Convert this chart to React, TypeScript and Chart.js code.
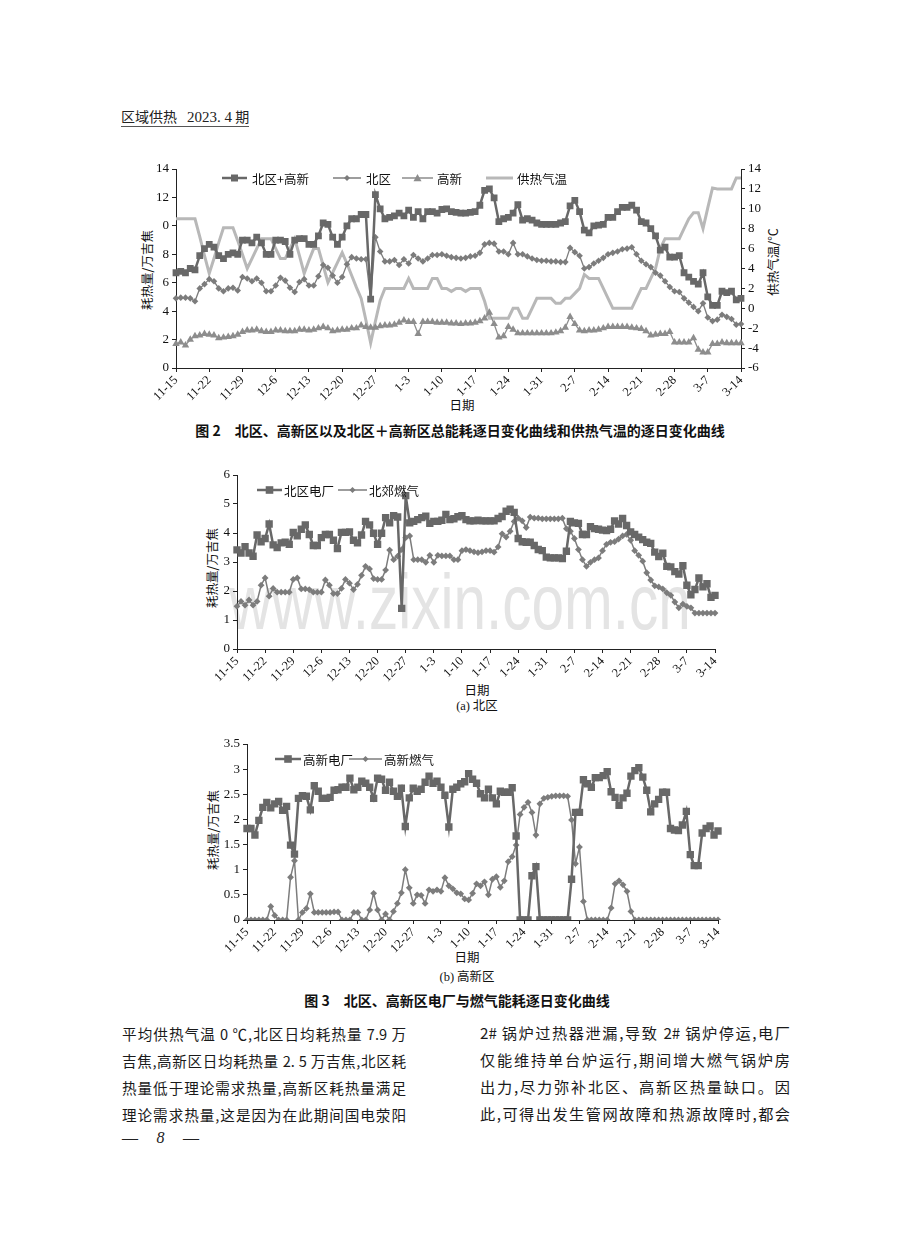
import React, { useEffect, useRef } from "react";
import { Chart, registerables } from "chart.js";
Chart.register(...registerables);

// ---------- categories ----------
const MONTH_SPANS: [number, number, number][] = [
  [11, 15, 30],
  [12, 1, 31],
  [1, 1, 31],
  [2, 1, 28],
  [3, 1, 14],
];
const DATES: string[] = [];
MONTH_SPANS.forEach(([m, a, b]) => {
  for (let d = a; d <= b; d++) DATES.push(`${m}-${d}`);
});
const TICK_EVERY = 7;

// ---------- Fig 2 series ----------
const TOTAL = [
  6.7, 6.8, 6.7, 7.0, 6.9, 7.9, 8.4, 8.7, 8.5, 7.9,
  7.7, 8.0, 8.1, 8.0, 9.0, 9.0, 8.8, 9.2, 8.8, 8.0,
  8.0, 9.0, 9.0, 8.9, 8.0, 9.0, 9.1, 9.1, 8.7, 8.7,
  9.3, 10.2, 10.1, 9.2, 8.7, 9.2, 10.0, 10.5, 10.5, 10.8,
  10.8, 4.85, 12.2, 11.2, 10.5, 10.6, 10.7, 10.9, 10.7, 11.1,
  10.6, 11.0, 10.5, 11.0, 11.0, 10.9, 11.15, 11.2, 11.0, 10.95,
  10.9, 10.9, 10.95, 11.0, 11.45, 12.5, 12.6, 11.97, 10.3, 10.5,
  10.6, 10.9, 11.5, 10.4, 10.5, 10.4, 10.2, 10.1, 10.1, 10.1,
  10.1, 10.2, 10.3, 11.4, 11.8, 11.0, 9.7, 9.5, 10.0, 10.05,
  10.1, 10.6, 10.6, 11.0, 11.3, 11.3, 11.45, 11.1, 10.3, 10.2,
  9.8, 9.3, 8.3, 8.5, 7.8, 7.8, 7.9, 6.7, 6.4, 6.1,
  5.9, 6.7, 5.0, 4.4, 4.4, 5.4, 5.3, 5.4, 4.8, 4.9,
];
const NORTH = [
  4.9, 4.95, 4.95, 4.9, 4.7, 5.6, 5.9, 6.25, 6.1, 5.6,
  5.4, 5.6, 5.65, 5.45, 6.4, 6.3, 6.1, 6.3, 6.0, 5.4,
  5.4, 5.8, 6.35, 6.15, 5.65, 5.35, 6.05, 6.25, 5.8, 5.8,
  6.45, 7.25, 7.05, 6.5, 6.0, 6.4, 7.3, 7.8, 7.7, 7.65,
  7.65, 4.85, 9.2, 8.2, 7.5, 7.5, 7.6, 7.25, 7.65, 7.35,
  7.95, 7.7, 7.5, 7.7, 7.95, 7.95, 8.0, 7.9, 7.8, 7.75,
  7.7, 7.75, 7.85, 7.9, 8.1, 8.7, 8.8, 8.75, 8.2, 8.2,
  8.0, 8.8, 8.0, 8.0, 7.85, 7.7, 7.6, 7.55, 7.55, 7.5,
  7.5, 7.45, 7.45, 8.45, 8.15, 7.9, 7.0, 7.1, 7.35, 7.55,
  7.75, 8.0, 8.1, 8.2, 8.35, 8.4, 8.5, 8.0, 7.55, 7.3,
  7.1, 6.7, 6.5, 6.1, 5.7, 5.4, 5.35, 4.9, 4.6, 4.3,
  4.0, 4.55, 3.55, 3.3, 3.4, 3.75, 3.6, 3.45, 3.05, 3.1,
];
const GAOXIN = [
  1.7, 1.8, 1.6, 2.0, 2.25, 2.3, 2.4, 2.35, 2.3, 2.1,
  2.15, 2.2, 2.25, 2.35, 2.55, 2.65, 2.65, 2.7, 2.6, 2.55,
  2.55, 2.65, 2.65, 2.6, 2.6, 2.6, 2.7, 2.7, 2.65, 2.7,
  2.8, 2.9, 2.8, 2.6, 2.65, 2.7, 2.7, 2.8, 2.8, 3.0,
  2.9, 2.85, 2.85, 2.95, 3.0, 3.0, 3.05, 3.2, 3.35, 3.25,
  3.25, 2.4, 3.25, 3.25, 3.25, 3.2, 3.2, 3.2, 3.15, 3.15,
  3.1, 3.15, 3.15, 3.2, 3.3, 3.5, 3.9, 3.1, 2.15, 2.25,
  2.9, 2.7, 2.45, 2.45, 2.45, 2.45, 2.45, 2.45, 2.45, 2.45,
  2.5, 2.6, 2.85, 3.6, 3.1, 2.65, 2.6, 2.65, 2.65, 2.7,
  2.8, 2.9, 2.9, 2.9, 2.9, 2.9, 2.85, 2.8, 2.75, 2.6,
  2.3, 2.35, 2.4, 2.4, 2.55, 1.8, 1.8, 1.8, 1.8, 2.1,
  1.3, 1.1, 1.1, 1.7, 1.7, 1.8, 1.75, 1.75, 1.75, 1.75,
];
const TEMP = [
  9, 9, 9, 9, 9, 7.2, 5.3, 3.5, 5.0, 6.6,
  8.1, 8.1, 8.1, 6.8, 5.4, 4.0, 5.0, 6.0, 7.0, 7.0,
  7.0, 6.0, 5.0, 5.0, 6.0, 7.0, 5.3, 3.5, 4.8, 6.0,
  6.0, 4.3, 2.6, 3.6, 4.6, 5.6, 4.5, 3.3, 2.1, 1.0,
  -1.2, -3.5, -1.3, 0.8, 2.0, 2.0, 2.0, 2.0, 2.0, 3.0,
  2.0, 2.0, 2.0, 2.0, 3.0, 3.0, 2.0, 2.0, 1.7, 2.0,
  2.0, 1.7, 2.0, 2.0, 2.0, 0.7, -1.0, -1.0, -1.0, -1.0,
  -1.0, 0.0, 0.0, -1.0, -1.0, 0.0, 1.0, 1.0, 1.0, 1.0,
  0.5, 0.5, 1.0, 1.0, 1.5, 2.0, 3.4, 3.0, 3.0, 3.0,
  2.0, 1.0, 0.0, 0.0, 0.0, 0.0, 0.0, 1.0, 2.0, 2.0,
  3.0, 4.0, 6.0, 7.0, 7.0, 7.0, 7.0, 8.0, 9.0, 9.6,
  9.6, 8.0, 10.1, 12.1, 12, 12, 12, 12, 13.1, 13.1,
];
const LEFT_TICK_LABELS: Record<number, string> = { 10: "0" };

// ---------- Fig 3(a) series ----------
const PLANT_N = [
  3.42, 3.31, 3.53, 3.31, 3.2, 3.93, 3.7, 3.81, 4.31, 3.59,
  3.5, 3.66, 3.68, 3.61, 4.02, 3.9, 4.13, 4.28, 3.95, 3.57,
  3.57, 3.84, 3.95, 3.95, 3.75, 3.46, 4.02, 4.02, 4.04, 3.75,
  3.66, 3.93, 4.4, 4.28, 3.99, 3.61, 3.99, 4.53, 4.35, 4.6,
  4.55, 1.4, 5.29, 4.35, 4.4, 4.46, 4.53, 4.58, 4.33, 4.4,
  4.4, 4.44, 4.64, 4.46, 4.49, 4.56, 4.6, 4.46, 4.42, 4.42,
  4.44, 4.42, 4.42, 4.42, 4.42, 4.5, 4.57, 4.75, 4.82, 4.71,
  3.81, 3.7, 3.68, 3.68, 3.57, 3.43, 3.39, 3.17, 3.14, 3.14,
  3.14, 3.12, 3.37, 4.4, 4.35, 4.33, 3.95, 3.95, 4.22, 4.15,
  4.13, 4.1, 4.08, 4.13, 4.42, 4.31, 4.5, 4.26, 4.04, 3.95,
  3.86, 3.77, 3.68, 3.64, 3.34, 3.19, 3.3, 2.85, 2.83, 2.67,
  2.58, 2.87, 2.2, 1.87, 2.05, 2.45, 2.14, 2.25, 1.78, 1.85,
];
const GAS_N = [
  1.47, 1.64, 1.51, 1.69, 1.51, 1.64, 2.2, 2.45, 1.82, 2.09,
  1.96, 1.96, 1.96, 1.96, 2.4, 2.45, 2.07, 2.07, 2.05, 1.96,
  1.96, 1.96, 2.38, 2.2, 1.91, 1.91, 2.09, 2.4, 2.27, 2.05,
  2.23, 2.54, 2.85, 2.76, 2.43, 2.4, 2.4, 2.72, 3.41, 3.08,
  3.2, 3.43, 3.84, 3.9, 3.08, 3.08, 3.08, 2.99, 3.23, 2.99,
  3.23, 3.21, 3.21, 3.21, 3.08, 3.08, 3.39, 3.43, 3.39, 3.35,
  3.32, 3.35, 3.39, 3.39, 3.34, 3.52, 3.97, 3.86, 4.06, 4.4,
  4.51, 4.42, 4.19, 4.55, 4.51, 4.51, 4.49, 4.49, 4.49, 4.49,
  4.49, 4.51, 4.15, 4.06, 3.81, 3.43, 3.08, 2.85, 2.99, 3.08,
  3.14, 3.39, 3.61, 3.68, 3.7, 3.79, 3.9, 3.95, 3.75, 3.39,
  3.23, 3.03, 2.63, 2.38, 2.18, 2.14, 2.07, 1.94, 1.85, 1.62,
  1.42, 1.55, 1.47, 1.42, 1.24, 1.24, 1.24, 1.24, 1.24, 1.24,
];

// ---------- Fig 3(b) series ----------
const PLANT_G = [
  1.82, 1.82, 1.69, 1.98, 2.24, 2.34, 2.23, 2.31, 2.36, 2.18,
  2.26, 1.49, 1.31, 2.42, 2.47, 2.46, 2.19, 2.67, 2.56, 2.42,
  2.42, 2.44, 2.58, 2.59, 2.64, 2.64, 2.82, 2.59, 2.64, 2.76,
  2.72, 2.64, 2.42, 2.82, 2.8, 2.58, 2.74, 2.56, 2.46, 2.62,
  1.86, 2.43, 2.62, 2.56, 2.6, 2.74, 2.86, 2.72, 2.76, 2.64,
  2.48, 1.85, 2.6, 2.64, 2.71, 2.75, 2.91, 2.8, 2.72, 2.51,
  2.43, 2.6, 2.43, 2.31, 2.56, 2.54, 2.54, 2.63, 1.67, 0,
  0, 0, 0.88, 1.06, 0, 0, 0, 0, 0, 0,
  0, 0, 0.81, 2.14, 2.14, 2.79, 2.71, 2.64, 2.83, 2.83,
  2.87, 2.95, 2.55, 2.44, 2.28, 2.43, 2.52, 2.86, 2.97, 3.03,
  2.84, 2.58, 2.15, 2.31, 2.4, 2.54, 2.54, 1.82, 1.79, 1.78,
  1.89, 2.16, 1.3, 1.08, 1.08, 1.73, 1.82, 1.87, 1.69, 1.77,
];
const GAS_G = [
  0, 0, 0, 0, 0, 0, 0.27, 0.09, 0, 0,
  0, 0.85, 1.18, 0, 0.15, 0.23, 0.52, 0.15, 0.15, 0.15,
  0.15, 0.15, 0.16, 0.16, 0, 0, 0, 0.15, 0.15, 0,
  0, 0.2, 0.53, 0.2, 0, 0.12, 0, 0.17, 0.33, 0.54,
  1.0, 0.64, 0.33, 0.5, 0.49, 0.33, 0.6, 0.57, 0.6, 0.57,
  0.84, 0.68, 0.62, 0.54, 0.52, 0.42, 0.4, 0.53, 0.72, 0.68,
  0.76, 0.5, 0.81, 0.86, 0.65, 0.78, 1.16, 1.26, 1.49, 2.1,
  2.24, 2.34, 2.14, 1.69, 2.31, 2.42, 2.44, 2.46, 2.47, 2.47,
  2.47, 2.46, 1.99, 1.12, 1.45, 0.37, 0, 0, 0, 0,
  0, 0, 0.24, 0.72, 0.78, 0.7, 0.57, 0.17, 0, 0,
  0, 0, 0, 0, 0, 0, 0, 0, 0, 0,
  0, 0, 0, 0, 0, 0, 0, 0, 0, 0,
];

// ---------- styling ----------
const SERIF = "'Liberation Serif','DejaVu Serif',serif";
const CJK = "'Noto Sans CJK SC','Noto Sans',sans-serif";
const C_SQ = "#686868";
const C_DI = "#7c7c7c";
const C_TR = "#8d8d8d";
const C_TEMP = "#b8b8b8";

const legendPlugin = {
  id: "pageLegend",
  afterDraw(chart: any, _a: any, opts: any) {
    if (!opts || !opts.items) return;
    const ctx = chart.ctx as CanvasRenderingContext2D;
    const y = opts.y;
    ctx.save();
    for (const it of opts.items) {
      ctx.strokeStyle = it.color;
      ctx.lineWidth = it.lw;
      ctx.beginPath();
      ctx.moveTo(it.x, y);
      ctx.lineTo(it.x + it.len, y);
      ctx.stroke();
      const cx = it.x + it.len / 2;
      const s = it.size;
      ctx.fillStyle = it.color;
      ctx.beginPath();
      if (it.style === "rect") ctx.rect(cx - s, y - s, 2 * s, 2 * s);
      else if (it.style === "rectRot") {
        ctx.moveTo(cx, y - s);
        ctx.lineTo(cx + s, y);
        ctx.lineTo(cx, y + s);
        ctx.lineTo(cx - s, y);
        ctx.closePath();
      } else if (it.style === "triangle") {
        ctx.moveTo(cx, y - s);
        ctx.lineTo(cx + s, y + s * 0.8);
        ctx.lineTo(cx - s, y + s * 0.8);
        ctx.closePath();
      }
      if (it.style !== "none") ctx.fill();
      ctx.fillStyle = "#111";
      ctx.font = opts.font;
      ctx.textBaseline = "middle";
      ctx.textAlign = "left";
      ctx.fillText(it.label, it.textX, y + 1);
    }
    ctx.restore();
  },
};

function xAxis(height: number) {
  return {
    type: "category",
    offset: false,
    border: { display: true, color: "#222", width: 1 },
    grid: {
      display: true,
      drawOnChartArea: false,
      drawTicks: true,
      tickLength: 4,
      color: "rgba(0,0,0,0)",
      tickColor: (c: any) => (c.index % TICK_EVERY === 0 ? "#222" : "rgba(0,0,0,0)"),
    },
    ticks: {
      autoSkip: false,
      minRotation: 45,
      maxRotation: 45,
      padding: 1,
      color: "#111",
      font: { family: SERIF, size: 12.5 },
      callback: (_v: any, i: number) => (i % TICK_EVERY === 0 ? DATES[i] : ""),
    },
    afterFit: (s: any) => {
      s.height = height;
    },
  };
}

function yAxis(pos: string, min: number, max: number, step: number, width: number, cb?: (v: number) => string) {
  return {
    type: "linear",
    position: pos,
    min,
    max,
    border: { display: true, color: "#222", width: 1 },
    grid: {
      display: true,
      drawOnChartArea: false,
      drawTicks: true,
      tickLength: 4,
      tickColor: "#222",
      color: "rgba(0,0,0,0)",
    },
    ticks: {
      stepSize: step,
      padding: 3,
      color: "#111",
      font: { family: SERIF, size: 13 },
      callback: cb ?? ((v: number) => String(v)),
    },
    afterFit: (s: any) => {
      s.width = width;
    },
  };
}

function lineDs(label: string, data: number[], color: string, style: string, radius: number, width: number, axis = "y") {
  return {
    label,
    data,
    yAxisID: axis,
    borderColor: color,
    backgroundColor: color,
    borderWidth: width,
    pointStyle: style,
    pointRadius: radius,
    pointBorderWidth: 0,
    pointBackgroundColor: color,
    tension: 0,
  };
}

const Txt = ({ x, y, children, style }: any) => (
  <div
    style={{
      position: "absolute",
      left: x,
      top: y,
      transform: "translate(-50%,-50%)",
      whiteSpace: "nowrap",
      lineHeight: 1,
      ...style,
    }}
  >
    {children}
  </div>
);

const VTxt = ({ x, y, children, size = 12.5 }: any) => (
  <div
    style={{
      position: "absolute",
      left: x,
      top: y,
      transform: "translate(-50%,-50%) rotate(-90deg)",
      whiteSpace: "nowrap",
      lineHeight: 1,
      fontFamily: CJK,
      fontSize: size,
      color: "#111",
    }}
  >
    {children}
  </div>
);

const JLine = ({ x, y, w, text, size = 15 }: any) => (
  <div
    style={{
      position: "absolute",
      left: x,
      top: y - size * 0.65,
      width: w,
      height: size * 1.3,
      overflow: "visible",
      fontFamily: CJK,
      fontSize: size,
      lineHeight: `${size * 1.3}px`,
      textAlign: "justify",
      textAlignLast: "justify" as any,
      color: "#1a1a1a",
    }}
  >
    {text}
  </div>
);

export default function App() {
  const c1 = useRef<HTMLCanvasElement>(null);
  const c2 = useRef<HTMLCanvasElement>(null);
  const c3 = useRef<HTMLCanvasElement>(null);

  useEffect(() => {
    const legendFont = `12.5px ${CJK}`;
    const ch1 = new Chart(c1.current as HTMLCanvasElement, {
      type: "line",
      data: {
        labels: DATES,
        datasets: [
          lineDs("北区+高新", TOTAL, C_SQ, "rect", 4.8, 2.5),
          lineDs("北区", NORTH, C_DI, "rectRot", 3.3, 1.3),
          lineDs("高新", GAOXIN, C_TR, "triangle", 4.3, 1.3),
          lineDs("供热气温", TEMP, C_TEMP, "circle", 0, 3, "y1"),
        ] as any,
      },
      options: {
        responsive: false,
        animation: false,
        layout: { padding: { top: 19, left: 0, right: 0, bottom: 0 } },
        scales: {
          x: xAxis(52) as any,
          y: yAxis("left", 0, 14, 2, 66, (v) => LEFT_TICK_LABELS[v] ?? String(v)) as any,
          y1: yAxis("right", -6, 14, 2, 59) as any,
        },
        plugins: {
          legend: { display: false },
          tooltip: { enabled: false },
          pageLegend: {
            y: 28,
            font: legendFont,
            items: [
              { label: "北区+高新", x: 112, len: 25, textX: 142, style: "rect", color: C_SQ, lw: 2.5, size: 3.5 },
              { label: "北区", x: 223, len: 28, textX: 256, style: "rectRot", color: C_DI, lw: 1.5, size: 3 },
              { label: "高新", x: 292, len: 31, textX: 327, style: "triangle", color: C_TR, lw: 1.5, size: 4 },
              { label: "供热气温", x: 376, len: 27, textX: 407, style: "none", color: C_TEMP, lw: 3, size: 0 },
            ],
          },
        } as any,
      },
      plugins: [legendPlugin],
    });

    const ch2 = new Chart(c2.current as HTMLCanvasElement, {
      type: "line",
      data: {
        labels: DATES,
        datasets: [
          lineDs("北区电厂", PLANT_N, C_SQ, "rect", 5.2, 2.5),
          lineDs("北郊燃气", GAS_N, C_DI, "rectRot", 3.4, 1.5),
        ] as any,
      },
      options: {
        responsive: false,
        animation: false,
        layout: { padding: { top: 13, left: 0, right: 15, bottom: 0 } },
        scales: {
          x: xAxis(43) as any,
          y: yAxis("left", 0, 6, 1, 47) as any,
        },
        plugins: {
          legend: { display: false },
          tooltip: { enabled: false },
          pageLegend: {
            y: 28,
            font: legendFont,
            items: [
              { label: "北区电厂", x: 67, len: 25, textX: 94, style: "rect", color: C_SQ, lw: 2.5, size: 3.8 },
              { label: "北郊燃气", x: 148, len: 29, textX: 179, style: "rectRot", color: C_DI, lw: 1.5, size: 3 },
            ],
          },
        } as any,
      },
      plugins: [legendPlugin],
    });

    const ch3 = new Chart(c3.current as HTMLCanvasElement, {
      type: "line",
      data: {
        labels: DATES,
        datasets: [
          lineDs("高新电厂", PLANT_G, C_SQ, "rect", 5.2, 2.5),
          lineDs("高新燃气", GAS_G, C_DI, "rectRot", 3.4, 1.5),
        ] as any,
      },
      options: {
        responsive: false,
        animation: false,
        layout: { padding: { top: 12, left: 0, right: 17, bottom: 0 } },
        scales: {
          x: xAxis(42) as any,
          y: yAxis("left", 0, 3.5, 0.5, 47) as any,
        },
        plugins: {
          legend: { display: false },
          tooltip: { enabled: false },
          pageLegend: {
            y: 27,
            font: legendFont,
            items: [
              { label: "高新电厂", x: 75, len: 26, textX: 103, style: "rect", color: C_SQ, lw: 2.5, size: 3.8 },
              { label: "高新燃气", x: 149, len: 33, textX: 184, style: "rectRot", color: C_DI, lw: 1.5, size: 3 },
            ],
          },
        } as any,
      },
      plugins: [legendPlugin],
    });

    return () => {
      ch1.destroy();
      ch2.destroy();
      ch3.destroy();
    };
  }, []);

  return (
    <div
      style={{
        position: "absolute",
        left: 0,
        top: 0,
        width: 920,
        height: 1259,
        background: "#fff",
        overflow: "hidden",
        fontFamily: CJK,
        color: "#111",
      }}
    >
      {/* header */}
      <div
        style={{
          position: "absolute",
          left: 121,
          top: 108,
          fontFamily: CJK,
          fontSize: 14,
          lineHeight: "16px",
          borderBottom: "1px solid #555",
          paddingBottom: 1,
          color: "#222",
          whiteSpace: "nowrap",
        }}
      >
        区域供热<span style={{ display: "inline-block", width: 10 }} />
        <span style={{ fontFamily: SERIF, fontSize: 15 }}>2023. 4</span> 期
      </div>

      {/* watermark */}
      <Txt
        x={460}
        y={602}
        style={{
          fontFamily: "'Liberation Sans',Arial,sans-serif",
          fontSize: 78,
          color: "#e4e4e4",
          transform: "translate(-50%,-50%) scaleX(0.75)",
          zIndex: 0,
        }}
      >
        www.zixin.com.cn
      </Txt>

      {/* Fig 2 */}
      <canvas ref={c1} width={690} height={270} style={{ position: "absolute", left: 110, top: 150, zIndex: 1 }} />
      <VTxt x={147} y={270}>耗热量/万吉焦</VTxt>
      <VTxt x={773} y={262}>供热气温/℃</VTxt>
      <Txt x={462} y={405} style={{ fontSize: 12.5 }}>日期</Txt>
      <Txt x={460} y={430} style={{ fontSize: 14, fontWeight: 700 }}>
        图 2　北区、高新区以及北区＋高新区总能耗逐日变化曲线和供热气温的逐日变化曲线
      </Txt>

      {/* Fig 3a */}
      <canvas ref={c2} width={540} height={230} style={{ position: "absolute", left: 190, top: 462, zIndex: 1 }} />
      <VTxt x={212} y={568}>耗热量/万吉焦</VTxt>
      <Txt x={477} y={690} style={{ fontSize: 12.5 }}>日期</Txt>
      <Txt x={477} y={706} style={{ fontSize: 12.5 }}>
        <span style={{ fontFamily: SERIF }}>(a)</span> 北区
      </Txt>

      {/* Fig 3b */}
      <canvas ref={c3} width={535} height={230} style={{ position: "absolute", left: 200, top: 732, zIndex: 1 }} />
      <VTxt x={213} y={830}>耗热量/万吉焦</VTxt>
      <Txt x={467} y={957} style={{ fontSize: 12.5 }}>日期</Txt>
      <Txt x={467} y={977} style={{ fontSize: 12.5 }}>
        <span style={{ fontFamily: SERIF }}>(b)</span> 高新区
      </Txt>
      <Txt x={457} y={1000} style={{ fontSize: 14, fontWeight: 700 }}>
        图 3　北区、高新区电厂与燃气能耗逐日变化曲线
      </Txt>

      {/* body text */}
      <JLine x={122} y={1033} w={284} size={14.6} text="平均供热气温 0 ℃,北区日均耗热量 7.9 万" />
      <JLine x={122} y={1060} w={284} size={14.6} text="吉焦,高新区日均耗热量 2. 5 万吉焦,北区耗" />
      <JLine x={122} y={1087} w={284} size={14.6} text="热量低于理论需求热量,高新区耗热量满足" />
      <JLine x={122} y={1114} w={284} size={14.6} text="理论需求热量,这是因为在此期间国电荥阳" />
      <JLine x={480} y={1033} w={310} size={15.2} text="2# 锅炉过热器泄漏,导致 2# 锅炉停运,电厂" />
      <JLine x={480} y={1060} w={310} size={15.2} text="仅能维持单台炉运行,期间增大燃气锅炉房" />
      <JLine x={480} y={1087} w={310} size={15.2} text="出力,尽力弥补北区、高新区热量缺口。因" />
      <JLine x={480} y={1114} w={310} size={15.2} text="此,可得出发生管网故障和热源故障时,都会" />

      {/* page number */}
      <div
        style={{
          position: "absolute",
          left: 122,
          top: 1129,
          width: 77,
          fontFamily: SERIF,
          fontSize: 16,
          lineHeight: "18px",
          color: "#222",
          whiteSpace: "nowrap",
          display: "flex",
          justifyContent: "space-between",
        }}
      >
        <span>—</span>
        <i>8</i>
        <span>—</span>
      </div>
    </div>
  );
}
